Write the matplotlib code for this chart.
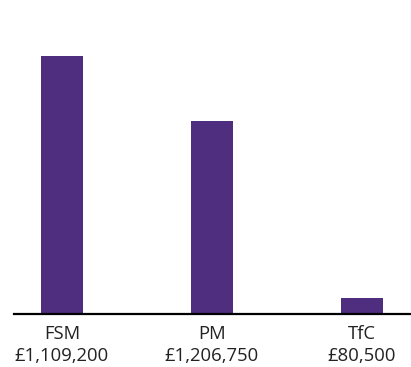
import matplotlib.pyplot as plt

categories = ["FSM", "PM", "TfC"]
amounts = ["£1,109,200", "£1,206,750", "£80,500"]
bar_heights = [100, 74.8, 6.2]

plt.rcParams['font.family'] = ['Open Sans', 'DejaVu Sans']

fig = plt.figure(figsize=(4.11, 3.67), dpi=100)
ax = fig.add_axes([0.034, 53 / 367, 0.966, 314 / 367])

x = range(len(categories))
ax.bar(x, bar_heights, width=0.28, color="#4f2d7f")

ax.set_xlim(-0.32, 2.33)
ax.set_ylim(0, 121.7)
ax.set_xticks(list(x))
ax.set_xticklabels([f"{c}\n{a}" for c, a in zip(categories, amounts)],
                   fontsize=13.3, color="#222222", linespacing=1.3)
ax.tick_params(axis="x", length=0, pad=8)
ax.set_yticks([])

for side in ["top", "right", "left"]:
    ax.spines[side].set_visible(False)
ax.spines["bottom"].set_linewidth(1.6)
ax.spines["bottom"].set_color("black")

fig.savefig("out.png", dpi=100)
